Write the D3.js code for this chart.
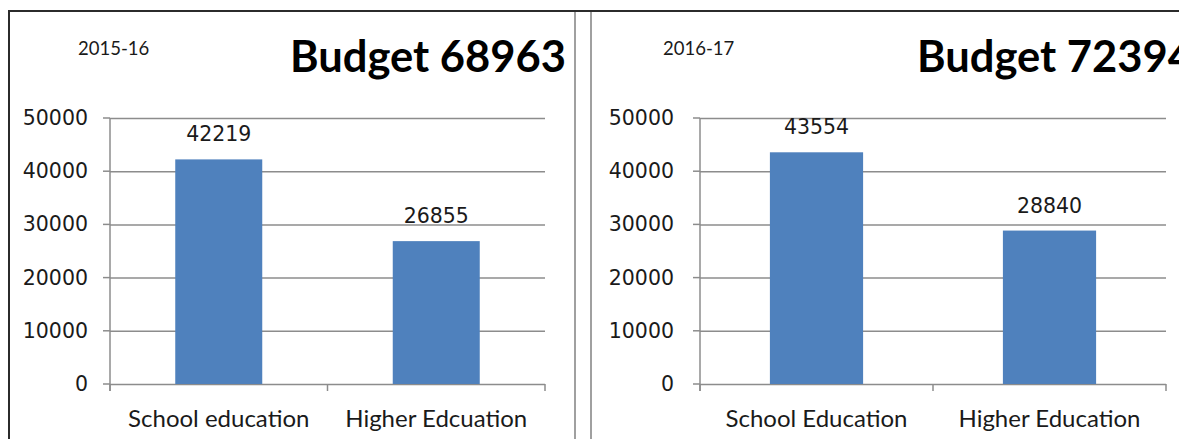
<!DOCTYPE html>
<html>
<head>
<meta charset="utf-8">
<script src="https://cdn.jsdelivr.net/npm/d3@7"></script>
<style>
  html, body { margin: 0; padding: 0; background: #fff; }
  svg { display: block; }
</style>
</head>
<body>
<div id="chart"></div>
<script>
/* Education budget, two side-by-side bar panels */

const years = ["2015-16", "2016-17"];
const budgets = [68963, 72394];
const categories1 = ["School education", "Higher Edcuation"];
const values1 = [42219, 26855];
const categories2 = ["School Education", "Higher Education"];
const values2 = [43554, 28840];
const yTicks = [0, 10000, 20000, 30000, 40000, 50000];

const W = 1179, H = 439;
const barColor = "#4f81bd";
const gridColor = "#8c8c8c";
const textColor = "#1a1a1a";

const svg = d3.select("#chart")
  .append("svg")
  .attr("width", W)
  .attr("height", H);

// panel frames
svg.append("line").attr("x1", 8).attr("x2", W).attr("y1", 11).attr("y2", 11)
  .attr("stroke", "#2b2b2b").attr("stroke-width", 2);
svg.append("line").attr("x1", 9).attr("x2", 9).attr("y1", 10).attr("y2", H)
  .attr("stroke", "#2b2b2b").attr("stroke-width", 2);
[575, 591].forEach(x => {
  svg.append("line").attr("x1", x).attr("x2", x).attr("y1", 12).attr("y2", H)
    .attr("stroke", "#a0a0a0").attr("stroke-width", 2);
});

function drawPanel(p) {
  const g = svg.append("g");

  const y = d3.scaleLinear()
    .domain([0, 50000])
    .range([384, 118]);

  const x = d3.scaleBand()
    .domain(p.categories)
    .range([p.left, p.right])
    .paddingInner(0.6)
    .paddingOuter(0.3);

  // Grid lines + y labels
  g.append("g")
    .attr("transform", `translate(${p.left}, 0)`)
    .call(d3.axisLeft(y).tickValues(yTicks).tickFormat(d3.format("d"))
      .tickSize(-(p.right - p.left)).tickPadding(p.labelGap))
    .call(g => g.select(".domain").remove())
    .call(g => g.selectAll("line").attr("stroke", gridColor).attr("stroke-width", 1.5))
    .call(g => g.selectAll("text")
      .attr("fill", textColor)
      .attr("font-family", "DejaVu Sans, Verdana, sans-serif")
      .attr("font-size", 20.5));

  // little outer ticks on the y axis
  g.selectAll(".ytick")
    .data(yTicks)
    .join("line")
    .attr("x1", p.left - 7).attr("x2", p.left)
    .attr("y1", d => y(d)).attr("y2", d => y(d))
    .attr("stroke", gridColor).attr("stroke-width", 1.5);

  // y axis line
  g.append("line")
    .attr("x1", p.left).attr("x2", p.left)
    .attr("y1", y(50000)).attr("y2", y(0) + 7)
    .attr("stroke", gridColor).attr("stroke-width", 1.5);

  // x tick marks at band edges
  const edges = d3.range(p.categories.length + 1).map(i => p.left + i * x.step());
  g.selectAll(".xtick")
    .data(edges)
    .join("line")
    .attr("x1", d => d).attr("x2", d => d)
    .attr("y1", y(0)).attr("y2", y(0) + 7)
    .attr("stroke", gridColor).attr("stroke-width", 1.5);

  // Bars
  g.selectAll("rect")
    .data(p.values)
    .join("rect")
    .attr("x", (d, i) => x(p.categories[i]))
    .attr("y", d => y(d))
    .attr("width", x.bandwidth())
    .attr("height", d => y(0) - y(d))
    .attr("fill", barColor);

  // value labels
  g.selectAll(".val")
    .data(p.values)
    .join("text")
    .attr("x", (d, i) => x(p.categories[i]) + x.bandwidth() / 2)
    .attr("y", d => y(d) - 18)
    .attr("text-anchor", "middle")
    .attr("font-family", "DejaVu Sans, Verdana, sans-serif")
    .attr("font-size", 20.5)
    .attr("fill", textColor)
    .text(d => d);

  // category labels
  g.selectAll(".cat")
    .data(p.categories)
    .join("text")
    .attr("x", d => x(d) + x.bandwidth() / 2)
    .attr("y", 427)
    .attr("text-anchor", "middle")
    .attr("font-family", "Lato, Calibri, sans-serif")
    .attr("font-size", 24)
    .attr("fill", textColor)
    .text(d => d);

  // year + budget headings
  g.append("text")
    .attr("x", p.yearX)
    .attr("y", 55)
    .attr("font-family", "Lato, Calibri, sans-serif")
    .attr("font-size", 18.5)
    .attr("fill", textColor)
    .text(p.year);

  g.append("text")
    .attr("x", p.budgetX)
    .attr("y", 72)
    .attr("font-family", "Lato, Calibri, sans-serif")
    .attr("font-weight", "bold")
    .attr("font-size", 43.5)
    .attr("fill", "#000")
    .text(`Budget ${p.budget}`);
}

drawPanel({
  categories: categories1, values: values1, year: years[0], budget: budgets[0],
  left: 110, right: 545, labelGap: 22, yearX: 78, budgetX: 290
});
drawPanel({
  categories: categories2, values: values2, year: years[1], budget: budgets[1],
  left: 700, right: 1166, labelGap: 26, yearX: 663, budgetX: 917
});
</script>
</body>
</html>
